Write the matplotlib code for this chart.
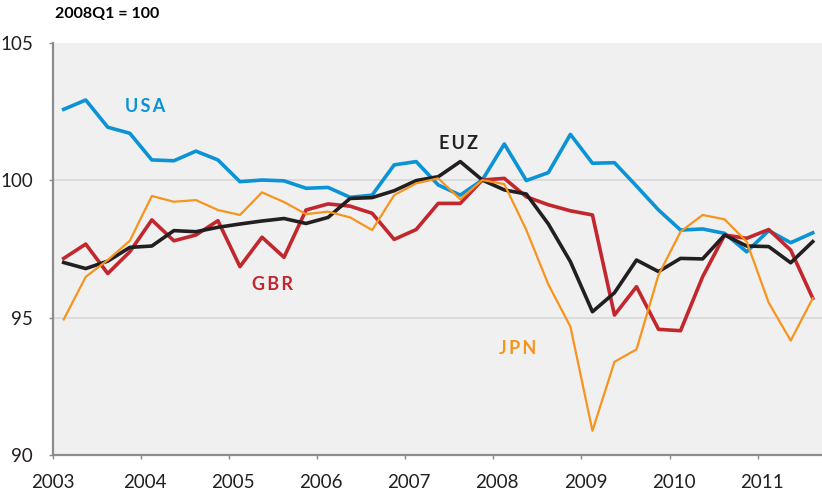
import matplotlib.pyplot as plt
import matplotlib.transforms as mtransforms
import numpy as np

#===========================================================
# Datos (índice trimestral, 2003Q1 ... 2011Q3)
#===========================================================

usa = [102.57, 102.91, 101.92, 101.70, 100.73, 100.70, 101.05, 100.73, 99.94,
       100.00, 99.97, 99.70, 99.73, 99.37, 99.45, 100.55, 100.67, 99.82, 99.45,
       100.00, 101.31, 99.98, 100.27, 101.66, 100.61, 100.63, 99.78, 98.91,
       98.18, 98.22, 98.06, 97.39, 98.16, 97.72, 98.08]

euz = [97.00, 96.78, 97.05, 97.55, 97.60, 98.16, 98.12, 98.28, 98.40, 98.51,
       98.60, 98.42, 98.64, 99.33, 99.36, 99.61, 99.98, 100.12, 100.67, 100.00,
       99.64, 99.49, 98.40, 97.03, 95.21, 95.90, 97.09, 96.67, 97.15, 97.13,
       98.00, 97.60, 97.58, 96.99, 97.76]

gbr = [97.15, 97.67, 96.60, 97.39, 98.55, 97.79, 98.00, 98.52, 96.85, 97.92,
       97.19, 98.91, 99.13, 99.05, 98.79, 97.84, 98.20, 99.15, 99.15, 100.00,
       100.06, 99.39, 99.10, 98.88, 98.73, 95.09, 96.12, 94.57, 94.52, 96.48,
       98.00, 97.88, 98.20, 97.45, 95.70]

jpn = [94.93, 96.48, 97.09, 97.79, 99.42, 99.21, 99.27, 98.91, 98.73, 99.55,
       99.20, 98.76, 98.85, 98.64, 98.18, 99.45, 99.88, 100.06, 99.30, 100.00,
       99.85, 98.18, 96.20, 94.67, 90.88, 93.39, 93.84, 96.55, 98.12, 98.73,
       98.57, 97.76, 95.54, 94.16, 95.70]

years = [2003, 2004, 2005, 2006, 2007, 2008, 2009, 2010, 2011]
y_ticks = [90, 95, 100, 105]

# posición de cada trimestre (mitad del trimestre)
t = 2003 + (np.arange(len(usa)) + 0.5) / 4

#===========================================================
# Estilo
#===========================================================

plt.rcParams['font.family'] = ['Lato', 'DejaVu Sans']

azul = '#0A93D5'
rojo = '#C1272D'
negro = '#231F20'
naranja = '#F7941D'

fig = plt.figure(figsize=(8.22, 4.91), dpi=100)
ax = fig.add_axes([0.0641, 0.0733, 0.9359, 0.8401])
ax.set_facecolor('#F0F0F0')

#===========================================================
# Graficar
#===========================================================

ax.plot(t, usa, color=azul, lw=2.6, zorder=3)
ax.plot(t, gbr, color=rojo, lw=2.6, zorder=4)
ax.plot(t, euz, color=negro, lw=2.6, zorder=5)
ax.plot(t, jpn, color=naranja, lw=1.6, zorder=6)

ax.set_xlim(2003, 2011.73)
ax.set_ylim(90, 105)
ax.set_xticks(years)
ax.set_yticks(y_ticks)
ax.set_xticklabels([str(a) for a in years])
ax.set_yticklabels([str(v) for v in y_ticks])

# cuadrícula solo en 95 y 100
for v in [95, 100]:
    ax.axhline(v, color='#D9D9D9', lw=1.3, zorder=1)

for lado in ['top', 'right']:
    ax.spines[lado].set_visible(False)
for lado in ['left', 'bottom']:
    ax.spines[lado].set_color('#8C8C8C')
    ax.spines[lado].set_linewidth(1.6)

ax.tick_params(axis='x', length=3, width=1, color='#8C8C8C', pad=11,
               labelsize=13.5, labelcolor='#231F20')
ax.tick_params(axis='y', length=3, width=1, color='#8C8C8C', pad=11,
               labelsize=13.5, labelcolor='#231F20')

# etiquetas de años un poco a la derecha del tick
desplaz = mtransforms.ScaledTranslation(4 / 100, 0, fig.dpi_scale_trans)
for lab in ax.get_xticklabels()[1:]:
    lab.set_transform(lab.get_transform() + desplaz)

#===========================================================
# Textos
#===========================================================

fig.text(55 / 822, 1 - 14 / 491, '2008Q1 = 100', fontsize=11.5,
         fontweight='bold', va='center', ha='left', color='#000000')

etiquetas = [('U\u2009S\u2009A', 145, 107, azul),
             ('E\u2009U\u2009Z', 458, 143, negro),
             ('G\u2009B\u2009R', 272, 284, rojo),
             ('J\u2009P\u2009N', 518, 348, naranja)]
for txt, px, py, col in etiquetas:
    fig.text(px / 822, 1 - py / 491, txt, fontsize=13, fontweight='bold',
             color=col, ha='center', va='center')

plt.savefig('out.png', dpi=100)
